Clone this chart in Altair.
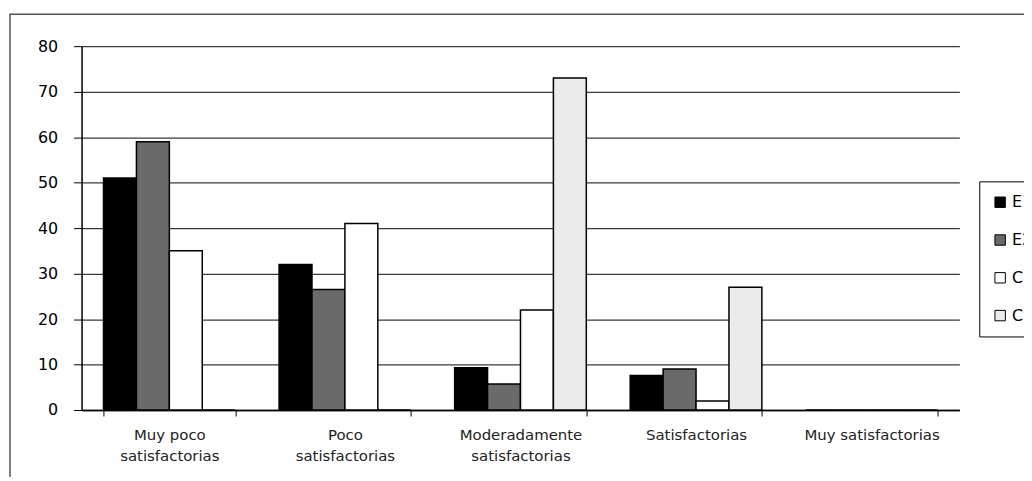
import json
import altair as alt
import pandas as pd

categories = ["Muy poco satisfactorias", "Poco satisfactorias",
              "Moderadamente satisfactorias", "Satisfactorias", "Muy satisfactorias"]
label_lines = [["Muy poco", "satisfactorias"], ["Poco", "satisfactorias"],
               ["Moderadamente", "satisfactorias"], ["Satisfactorias"], ["Muy satisfactorias"]]
series = ["E1", "E2", "C1", "C2"]
E1 = [51, 32, 9.3, 7.6, 0]
E2 = [59, 26.5, 5.7, 9, 0]
C1 = [35, 41, 22, 2, 0]
C2 = [0, 0, 73, 27, 0]
y_ticks = [0, 10, 20, 30, 40, 50, 60, 70, 80]
fills = ["#000000", "#6a6a6a", "#ffffff", "#ebebeb"]

values = {"E1": E1, "E2": E2, "C1": C1, "C2": C2}
rows = []
for s in series:
    for c, v in zip(categories, values[s]):
        rows.append({"cat": c, "serie": s, "valor": v})
df = pd.DataFrame(rows)

expr = "''"
for c, lines in reversed(list(zip(categories, label_lines))):
    expr = f"datum.label == {json.dumps(c)} ? {json.dumps(lines)} : ({expr})"

FONT = "DejaVu Sans"

bars = alt.Chart(df).mark_bar(stroke="#000000", strokeWidth=1.5).encode(
    x=alt.X("cat:N", sort=categories, title=None,
            scale=alt.Scale(paddingInner=0.25, paddingOuter=0.125),
            axis=alt.Axis(labelExpr=expr, labelAngle=0, labelFontSize=15,
                          labelColor="#222222", labelFont=FONT, labelLineHeight=21,
                          labelPadding=12, labelBaseline="top",
                          tickBand="extent", tickSize=6, tickColor="#000000",
                          domainColor="#000000", domainWidth=1.5, grid=False)),
    xOffset=alt.XOffset("serie:N", sort=series, scale=alt.Scale(paddingInner=0, paddingOuter=0)),
    y=alt.Y("valor:Q", title=None,
            scale=alt.Scale(domain=[0, 80], nice=False),
            axis=alt.Axis(values=y_ticks, labelFontSize=16, labelColor="#000000",
                          labelFont=FONT, labelPadding=16, tickSize=8,
                          tickColor="#000000", domainColor="#000000", domainWidth=1.5,
                          grid=True, gridColor="#3a3a3a", gridWidth=1.3)),
    fill=alt.Fill("serie:N", sort=series,
                  scale=alt.Scale(domain=series, range=fills),
                  legend=alt.Legend(title=None, orient="none", legendX=903, legendY=136,
                                    symbolType="square", symbolSize=110,
                                    symbolStrokeColor="#000000", symbolStrokeWidth=1,
                                    labelFontSize=16, labelFont=FONT, labelColor="#000000",
                                    labelOffset=4, rowPadding=22, padding=13,
                                    strokeColor="#000000", fillColor="#ffffff")),
)

frame = alt.Chart(pd.DataFrame({"f": [0]})).mark_rect(
    fill="transparent", stroke="#555555", strokeWidth=1.5
).encode(x=alt.value(-72), x2=alt.value(1200), y=alt.value(-32), y2=alt.value(600))

chart = alt.layer(frame, bars).properties(
    width=883, height=366,
    autosize=alt.AutoSizeParams(type="none"),
    padding={"left": 74, "top": 37, "right": 65, "bottom": 66},
).configure_view(stroke=None)

chart.save("out.html", embed_options={"renderer": "svg", "actions": False})
